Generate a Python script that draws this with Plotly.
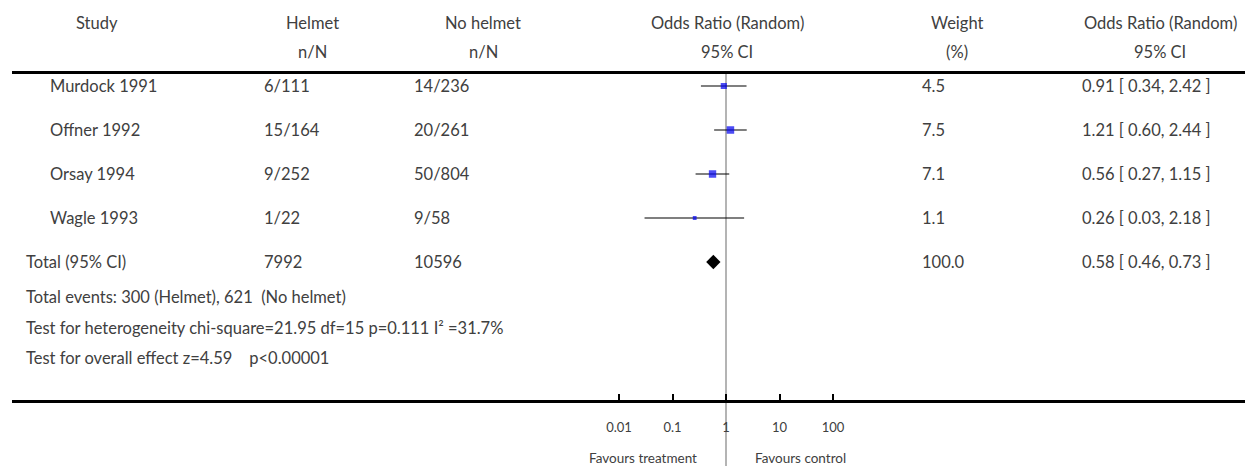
import plotly.graph_objects as go
import math

# ---------------- data ----------------
studies = ["Murdock 1991", "Offner 1992", "Orsay 1994", "Wagle 1993"]
helmet_nN = ["6/111", "15/164", "9/252", "1/22"]
nohelmet_nN = ["14/236", "20/261", "50/804", "9/58"]
or_est = [0.91, 1.21, 0.56, 0.26]
ci_low = [0.34, 0.60, 0.27, 0.03]
ci_high = [2.42, 2.44, 1.15, 2.18]
weights = [4.5, 7.5, 7.1, 1.1]

total_label = "Total (95% CI)"
total_helmet = "7992"
total_nohelmet = "10596"
total_or = 0.58
total_low = 0.46
total_high = 0.73
total_weight = 100.0

footer_lines = [
    "Total events: 300 (Helmet), 621  (No helmet)",
    "Test for heterogeneity chi-square=21.95 df=15 p=0.111 I² =31.7%",
    "Test for overall effect z=4.59    p<0.00001",
]
tick_vals = [0.01, 0.1, 1, 10, 100]
tick_text = ["0.01", "0.1", "1", "10", "100"]
header_top = ["Study", "Helmet", "No helmet", "Odds Ratio (Random)", "Weight", "Odds Ratio (Random)"]
header_bottom = ["", "n/N", "n/N", "95% CI", "(%)", "95% CI"]
favours_left = "Favours treatment"
favours_right = "Favours control"

# ---------------- layout constants ----------------
W, H = 1246, 466
FONT = "Lato, 'Open Sans', sans-serif"
TXT = "#404040"
FS = 16.5

def px(x):
    return x / W

def py(y):
    return 1 - y / H

row_top_px, row_step = 86, 44
ytop_px = 72.5
y_range = [(H - row_top_px) / row_step, (ytop_px - row_top_px) / row_step]

one_px, decade = 726, 53.5
xl, xr = 12, 1245
x_range = [(xl - one_px) / decade, (xr - one_px) / decade]

fig = go.Figure()

# CI lines
for i in range(len(studies)):
    fig.add_trace(go.Scatter(x=[ci_low[i], ci_high[i]], y=[i, i], mode="lines",
                             line=dict(color="black", width=1.2), hoverinfo="skip"))

# squares
fig.add_trace(go.Scatter(
    x=or_est, y=list(range(len(studies))), mode="markers",
    marker=dict(symbol="square", color="#0000f0",
                size=[2.2 * math.sqrt(w) + 1.5 for w in weights], line=dict(width=0)),
    hoverinfo="skip"))

# total diamond
fig.add_trace(go.Scatter(x=[total_or], y=[len(studies)], mode="markers",
                         marker=dict(symbol="diamond", color="black", size=11),
                         hoverinfo="skip"))

# reference line at 1
fig.add_shape(type="line", xref="x", yref="paper", x0=1, x1=1, y0=0, y1=py(ytop_px),
              line=dict(color="#b4b4b4", width=2), layer="below")

# top thick line
fig.add_shape(type="line", xref="paper", yref="paper", x0=px(xl), x1=px(xr),
              y0=py(ytop_px), y1=py(ytop_px), line=dict(color="black", width=3))

ann = []

def add_text(x, y, text, xanchor="left", size=FS, yref="paper"):
    ann.append(dict(x=x, y=y, xref="paper", yref=yref, text=text, showarrow=False,
                    xanchor=xanchor, yanchor="middle",
                    font=dict(family=FONT, size=size, color=TXT)))

# headers
head_x = [97, 312, 483, 727, 957, 1160]
for hx, t1, t2 in zip(head_x, header_top, header_bottom):
    add_text(px(hx), py(23), t1, "center")
    if t2:
        add_text(px(hx), py(52), t2, "center")

# rows
for i in range(len(studies)):
    add_text(px(48), i, studies[i], yref="y")
    add_text(px(262), i, helmet_nN[i], yref="y")
    add_text(px(412), i, nohelmet_nN[i], yref="y")
    add_text(px(920), i, f"{weights[i]:.1f}", yref="y")
    add_text(px(1080), i, f"{or_est[i]:.2f} [ {ci_low[i]:.2f}, {ci_high[i]:.2f} ]", yref="y")

ti = len(studies)
add_text(px(24), ti, total_label, yref="y")
add_text(px(262), ti, total_helmet, yref="y")
add_text(px(412), ti, total_nohelmet, yref="y")
add_text(px(920), ti, f"{total_weight:.1f}", yref="y")
add_text(px(1080), ti, f"{total_or:.2f} [ {total_low:.2f}, {total_high:.2f} ]", yref="y")

for fy, t in zip([297, 328, 358], footer_lines):
    add_text(px(24), py(fy), t)

add_text(px(699), py(458), favours_left, "right", size=13.5)
add_text(px(753), py(458), favours_right, "left", size=13.5)

fig.update_layout(
    width=W, height=H, margin=dict(l=0, r=0, t=0, b=0),
    paper_bgcolor="white", plot_bgcolor="white", showlegend=False,
    annotations=ann,
    xaxis=dict(type="log", range=x_range, domain=[px(xl), px(xr)],
               anchor="free", position=py(401),
               showline=True, linewidth=3, linecolor="black",
               ticks="inside", ticklen=6, tickwidth=2, tickcolor="black",
               tickvals=tick_vals, ticktext=tick_text, ticklabelstandoff=13,
               tickfont=dict(family=FONT, size=13, color=TXT),
               showgrid=False, zeroline=False, fixedrange=True),
    yaxis=dict(range=y_range, domain=[0, py(ytop_px)], visible=False,
               showgrid=False, zeroline=False, fixedrange=True),
)

fig.write_html("out.html")
